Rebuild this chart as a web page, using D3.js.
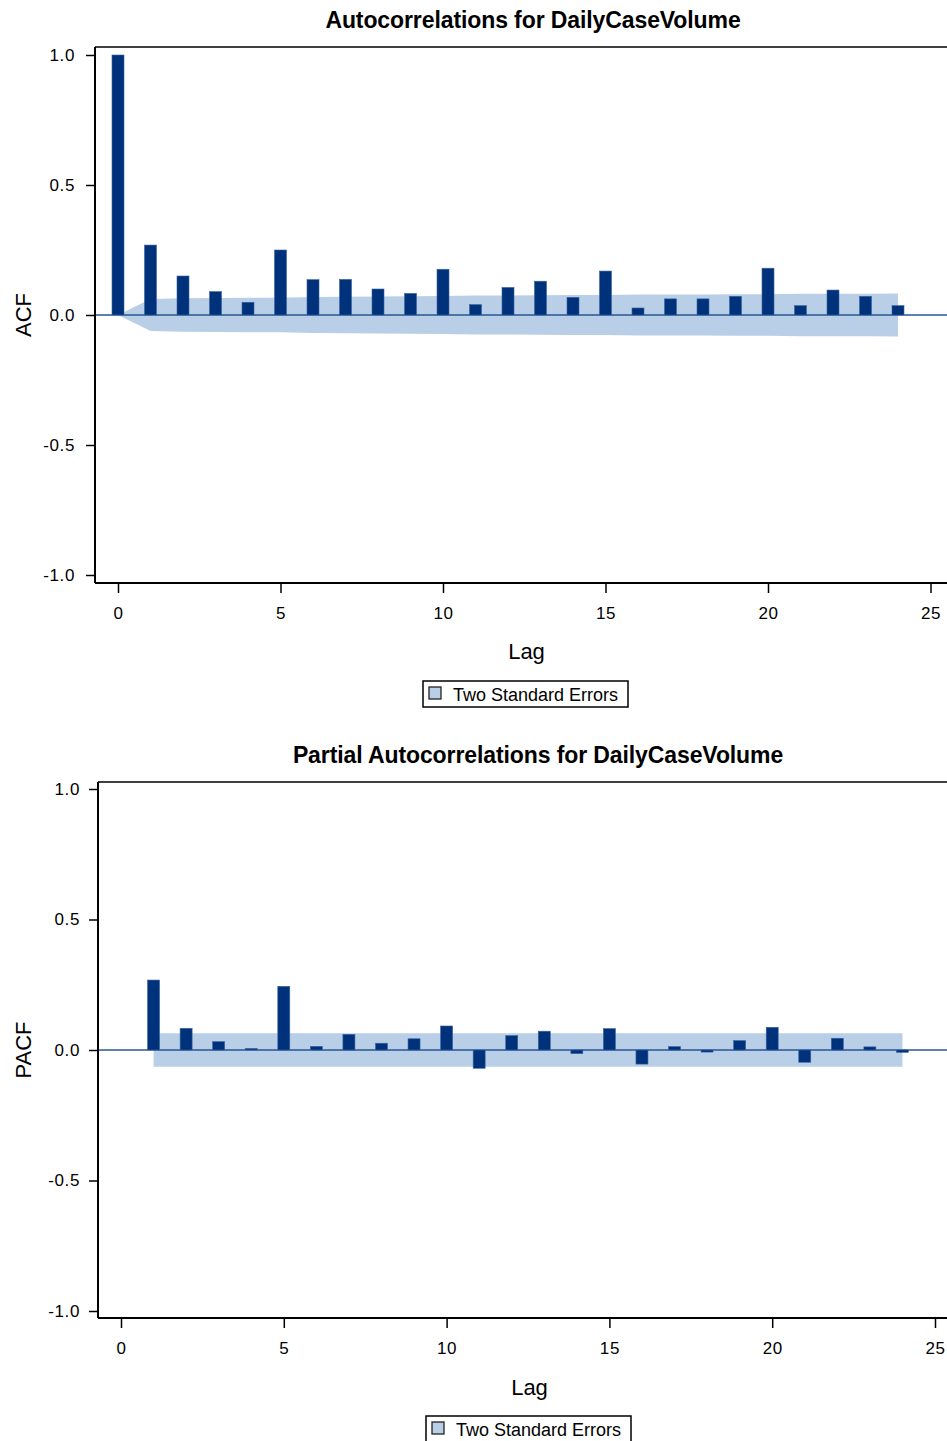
<!DOCTYPE html>
<html><head><meta charset="utf-8">
<script src="https://cdn.jsdelivr.net/npm/d3@7"></script>
<style>body{margin:0;background:#fff}svg{display:block;font-family:"Liberation Sans",Arial,sans-serif}</style>
</head><body>
<script>
const lags = d3.range(0, 25);
const acfValues = [1.0, 0.269, 0.150, 0.090, 0.049, 0.250, 0.136, 0.137, 0.100, 0.083, 0.176, 0.040, 0.106, 0.130, 0.068, 0.169, 0.027, 0.062, 0.062, 0.072, 0.180, 0.036, 0.096, 0.072, 0.036];
const acfBand = [0, 0.062, 0.064, 0.065, 0.066, 0.066, 0.069, 0.070, 0.071, 0.072, 0.073, 0.075, 0.075, 0.076, 0.077, 0.077, 0.079, 0.079, 0.079, 0.080, 0.080, 0.082, 0.082, 0.082, 0.083];
const pacfLags = d3.range(1, 25);
const pacfValues = [0.268, 0.083, 0.032, 0.006, 0.244, 0.014, 0.060, 0.026, 0.043, 0.092, -0.070, 0.055, 0.072, -0.014, 0.082, -0.054, 0.013, -0.008, 0.036, 0.087, -0.047, 0.045, 0.012, -0.009];
const pacfBand = [0.064, 0.064, 0.064, 0.064, 0.064, 0.064, 0.064, 0.064, 0.064, 0.064, 0.064, 0.064, 0.064, 0.064, 0.064, 0.064, 0.064, 0.064, 0.064, 0.064, 0.064, 0.064, 0.064, 0.064];
const yTicks = [-1.0, -0.5, 0.0, 0.5, 1.0];
const xTicks = [0, 5, 10, 15, 20, 25];
const titles = ["Autocorrelations for DailyCaseVolume", "Partial Autocorrelations for DailyCaseVolume"];
const yLabels = ["ACF", "PACF"];
const legendText = "Two Standard Errors";

const W = 947, H = 1441;
const svg = d3.select("body").append("svg").attr("width", W).attr("height", H);

const BAR = "#00317b", BAND = "#b9cfe7", ZERO = "#2a5694";

function panel(cfg) {
  const g = svg.append("g");
  const x = d3.scaleLinear().domain([0, 25]).range([cfg.x0, cfg.x25]);
  const y = d3.scaleLinear().domain([-1, 1]).range([cfg.yBot, cfg.yTop]);
  const left = cfg.left, right = cfg.left + 880, top = cfg.top, bottom = cfg.bottom;

  // band
  const area = d3.area().x(d => x(d.lag)).y0(d => y(-d.b)).y1(d => y(d.b));
  g.append("path").datum(cfg.lags.map((l, i) => ({lag: l, b: cfg.band[i]})))
    .attr("d", area).attr("fill", BAND);

  // zero line
  g.append("line").attr("x1", left).attr("x2", right).attr("y1", y(0)).attr("y2", y(0))
    .attr("stroke", ZERO).attr("stroke-width", 1.5);

  // bars
  const bw = 12;
  g.selectAll("rect.bar").data(cfg.lags.map((l, i) => ({lag: l, v: cfg.values[i]})))
    .join("rect").attr("class", "bar")
    .attr("x", d => x(d.lag) - bw / 2)
    .attr("width", bw)
    .attr("y", d => y(Math.max(0, d.v)))
    .attr("height", d => Math.max(1.5, Math.abs(y(d.v) - y(0))))
    .attr("fill", BAR).attr("stroke", "#3b64a0").attr("stroke-width", 0.6);

  // frame
  g.append("line").attr("x1", left).attr("x2", right).attr("y1", top).attr("y2", top).attr("stroke", "#000").attr("stroke-width", 1.5);
  g.append("line").attr("x1", left).attr("x2", right).attr("y1", bottom).attr("y2", bottom).attr("stroke", "#000").attr("stroke-width", 2);
  g.append("line").attr("x1", left).attr("x2", left).attr("y1", top).attr("y2", bottom).attr("stroke", "#000").attr("stroke-width", 2);

  // y axis
  const ya = g.append("g").attr("transform", `translate(${left},0)`)
    .call(d3.axisLeft(y).tickValues(yTicks).tickSize(9).tickPadding(cfg.yPad).tickFormat(d => d.toFixed(1)));
  ya.select(".domain").remove();
  ya.selectAll("line").attr("stroke", "#000").attr("stroke-width", 1.5);
  ya.selectAll("text").attr("font-size", 17).attr("letter-spacing", 0.6).attr("fill", "#000").attr("font-family", "Liberation Sans, Arial, sans-serif");

  // x axis
  const xa = g.append("g").attr("transform", `translate(0,${bottom + 1})`)
    .call(d3.axisBottom(x).tickValues(xTicks).tickSize(9).tickPadding(14).tickFormat(d3.format("d")));
  xa.select(".domain").remove();
  xa.selectAll("line").attr("stroke", "#000").attr("stroke-width", 1.5);
  xa.selectAll("text").attr("font-size", 17).attr("letter-spacing", 0.6).attr("fill", "#000").attr("font-family", "Liberation Sans, Arial, sans-serif");

  // title
  g.append("text").attr("x", cfg.titleX).attr("y", cfg.titleY).attr("text-anchor", "middle")
    .attr("font-size", 23).attr("font-weight", "bold").attr("letter-spacing", -0.1).text(cfg.title);
  // x label
  g.append("text").attr("x", cfg.lagX).attr("y", cfg.lagY).attr("text-anchor", "middle")
    .attr("font-size", 22).text("Lag");
  // y label
  g.append("text").attr("transform", `translate(${cfg.ylX},${y(0)}) rotate(-90)`).attr("text-anchor", "middle")
    .attr("font-size", 22).text(cfg.ylabel);

  // legend
  const lg = g.append("g").attr("transform", `translate(${cfg.legX},${cfg.legY})`);
  lg.append("rect").attr("x", 0).attr("y", 0).attr("width", 205).attr("height", 26).attr("fill", "#fff").attr("stroke", "#000").attr("stroke-width", 1.5);
  lg.append("rect").attr("x", 6).attr("y", 6).attr("width", 12).attr("height", 12).attr("fill", BAND).attr("stroke", "#222").attr("stroke-width", 1.3);
  lg.append("text").attr("x", 30).attr("y", 20).attr("font-size", 18).text(legendText);
}

panel({lags: lags, values: acfValues, band: acfBand, left: 95, top: 47, bottom: 583,
  x0: 118, x25: 930.5, yTop: 55, yBot: 575, yPad: 11,
  title: titles[0], titleX: 533, titleY: 28, lagX: 526.5, lagY: 659, ylabel: yLabels[0], ylX: 31,
  legX: 423, legY: 681});

panel({lags: pacfLags, values: pacfValues, band: pacfBand, left: 98, top: 782, bottom: 1318,
  x0: 121, x25: 935, yTop: 789, yBot: 1311, yPad: 9,
  title: titles[1], titleX: 538, titleY: 763, lagX: 529.5, lagY: 1395, ylabel: yLabels[1], ylX: 31,
  legX: 426, legY: 1416});
</script>
</body></html>
